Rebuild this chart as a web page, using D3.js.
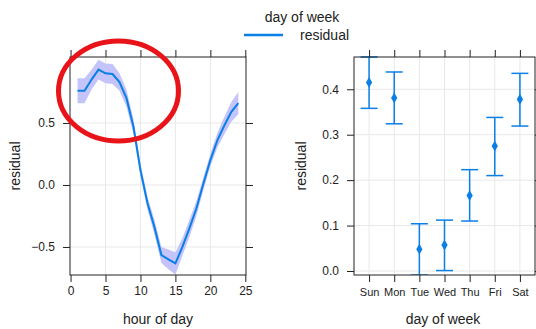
<!DOCTYPE html>
<html>
<head>
<meta charset="utf-8">
<script src="https://cdn.jsdelivr.net/npm/d3@7"></script>
<style>
  body { margin: 0; background: #fff; }
  text { font-family: "Liberation Sans", Arial, sans-serif; fill: #222; }
</style>
</head>
<body>
<svg id="chart" width="536" height="329"></svg>
<script>
// hour of day effect (fit + confidence band)
const hours = [1,2,3,4,5,6,7,8,9,10,11,12,13,14,15,16,17,18,19,20,21,22,23,24];
const hourFit = [0.76,0.76,0.85,0.93,0.90,0.895,0.83,0.70,0.47,0.12,-0.145,-0.34,-0.565,-0.60,-0.632,-0.50,-0.35,-0.19,0.01,0.20,0.36,0.48,0.59,0.66];
const hourLower = [0.66,0.66,0.77,0.85,0.82,0.815,0.76,0.63,0.41,0.07,-0.195,-0.40,-0.63,-0.68,-0.722,-0.57,-0.42,-0.25,-0.04,0.15,0.30,0.41,0.51,0.57];
const hourUpper = [0.86,0.86,0.93,1.01,0.98,0.975,0.90,0.77,0.53,0.17,-0.095,-0.28,-0.50,-0.52,-0.542,-0.43,-0.28,-0.13,0.06,0.25,0.42,0.55,0.67,0.75];
const hourTicksX = [0,5,10,15,20,25];
const hourTicksY = [-0.5,0,0.5];

// day of week effect
const days = ["Sun","Mon","Tue","Wed","Thu","Fri","Sat"];
const dayFit = [0.415,0.381,0.048,0.057,0.166,0.275,0.378];
const dayLower = [0.358,0.324,-0.009,0.001,0.110,0.210,0.319];
const dayUpper = [0.471,0.438,0.104,0.112,0.223,0.338,0.435];
const dayTicksY = [0.0,0.1,0.2,0.3,0.4];

const blue = "#0a7fe6";
const band = "#c4c4fb";
const grid = "#e8e8e8";
const tickLen = 7;

const svg = d3.select("#chart");

//////////////// left panel: hour of day ////////////////
const L = {x0: 70, x1: 246, y0: 57, y1: 275};
const xH = d3.scaleLinear().domain([-0.08, 25.1]).range([L.x0, L.x1]);
const yH = d3.scaleLinear().domain([-0.726, 1.032]).range([L.y1, L.y0]);

const gL = svg.append("g");
gL.append("defs").append("clipPath").attr("id", "clipL")
  .append("rect").attr("x", L.x0).attr("y", L.y0).attr("width", L.x1 - L.x0).attr("height", L.y1 - L.y0);

// grid
gL.selectAll(".gx").data(hourTicksX.filter(d => d > 0 && d < 25)).enter().append("line")
  .attr("x1", d => xH(d)).attr("x2", d => xH(d)).attr("y1", L.y0).attr("y2", L.y1)
  .style("stroke", grid);
gL.selectAll(".gy").data(hourTicksY).enter().append("line")
  .attr("y1", d => yH(d)).attr("y2", d => yH(d)).attr("x1", L.x0).attr("x2", L.x1)
  .style("stroke", grid);

const bandArea = d3.area()
  .x((d, i) => xH(hours[i]))
  .y0((d, i) => yH(hourLower[i]))
  .y1((d, i) => yH(hourUpper[i]));
gL.append("path").attr("clip-path", "url(#clipL)")
  .attr("d", bandArea(hours))
  .style("fill", band).style("stroke", "none");

const fitLine = d3.line()
  .x((d, i) => xH(hours[i]))
  .y((d, i) => yH(hourFit[i]));
gL.append("path").attr("clip-path", "url(#clipL)")
  .attr("d", fitLine(hours))
  .style("fill", "none").style("stroke", blue).style("stroke-width", 2);

// box
gL.append("rect").attr("x", L.x0).attr("y", L.y0).attr("width", L.x1 - L.x0).attr("height", L.y1 - L.y0)
  .style("fill", "none").style("stroke", "#222").style("stroke-width", 1);

// axes
gL.append("g").attr("transform", `translate(0,${L.y1})`)
  .call(d3.axisBottom(xH).tickValues(hourTicksX).tickSize(tickLen).tickPadding(4))
  .call(g => g.select(".domain").remove());
gL.append("g").attr("transform", `translate(0,${L.y0})`)
  .call(d3.axisTop(xH).tickValues(hourTicksX).tickSize(tickLen).tickFormat(""))
  .call(g => g.select(".domain").remove());
gL.append("g").attr("transform", `translate(${L.x0},0)`)
  .call(d3.axisLeft(yH).tickValues(hourTicksY).tickSize(tickLen).tickPadding(8).tickFormat(d3.format(".1f")))
  .call(g => g.select(".domain").remove());
gL.append("g").attr("transform", `translate(${L.x1},0)`)
  .call(d3.axisRight(yH).tickValues(hourTicksY).tickSize(tickLen).tickFormat(""))
  .call(g => g.select(".domain").remove());

gL.append("text").attr("x", 158).attr("y", 324).attr("text-anchor", "middle")
  .style("font-size", "14px").text("hour of day");
gL.append("text").attr("transform", "translate(20,166) rotate(-90)").attr("text-anchor", "middle")
  .style("font-size", "14px").text("residual");

//////////////// right panel: day of week ////////////////
const R = {x0: 354, x1: 535, y0: 57, y1: 275};
const xD = d3.scalePoint().domain(days).range([R.x0, R.x1]).padding(0.6);
const yD = d3.scaleLinear().domain([-0.0088, 0.471]).range([R.y1, R.y0]);

const gR = svg.append("g");
gR.append("defs").append("clipPath").attr("id", "clipR")
  .append("rect").attr("x", R.x0).attr("y", R.y0 - 1).attr("width", R.x1 - R.x0).attr("height", R.y1 - R.y0 + 1);

gR.selectAll(".gx").data(days).enter().append("line")
  .attr("x1", d => xD(d)).attr("x2", d => xD(d)).attr("y1", R.y0).attr("y2", R.y1)
  .style("stroke", grid);
gR.selectAll(".gy").data(dayTicksY).enter().append("line")
  .attr("y1", d => yD(d)).attr("y2", d => yD(d)).attr("x1", R.x0).attr("x2", R.x1)
  .style("stroke", grid);

const ci = gR.append("g").attr("clip-path", "url(#clipR)").selectAll(".ci").data(days).enter().append("g");
ci.append("line")
  .attr("x1", d => xD(d)).attr("x2", d => xD(d))
  .attr("y1", (d, i) => yD(dayLower[i])).attr("y2", (d, i) => yD(dayUpper[i]))
  .style("stroke", blue).style("stroke-width", 1.5);
ci.append("line")
  .attr("x1", d => xD(d) - 8.5).attr("x2", d => xD(d) + 8.5)
  .attr("y1", (d, i) => yD(dayUpper[i])).attr("y2", (d, i) => yD(dayUpper[i]))
  .style("stroke", blue).style("stroke-width", 1.5);
ci.append("line")
  .attr("x1", d => xD(d) - 8.5).attr("x2", d => xD(d) + 8.5)
  .attr("y1", (d, i) => yD(dayLower[i])).attr("y2", (d, i) => yD(dayLower[i]))
  .style("stroke", blue).style("stroke-width", 1.5);
ci.append("path")
  .attr("d", d3.symbol().type(d3.symbolDiamond).size(34))
  .attr("transform", (d, i) => `translate(${xD(d)},${yD(dayFit[i])})`)
  .style("fill", blue);

gR.append("rect").attr("x", R.x0).attr("y", R.y0).attr("width", R.x1 - R.x0).attr("height", R.y1 - R.y0)
  .style("fill", "none").style("stroke", "#222").style("stroke-width", 1);

const dayAxis = gR.append("g").attr("transform", `translate(0,${R.y1})`)
  .call(d3.axisBottom(xD).tickSize(tickLen).tickPadding(6))
  .call(g => g.select(".domain").remove());
gR.append("g").attr("transform", `translate(0,${R.y0})`)
  .call(d3.axisTop(xD).tickSize(tickLen).tickFormat(""))
  .call(g => g.select(".domain").remove());
const dayY = gR.append("g").attr("transform", `translate(${R.x0},0)`)
  .call(d3.axisLeft(yD).tickValues(dayTicksY).tickSize(tickLen).tickPadding(8).tickFormat(d3.format(".1f")))
  .call(g => g.select(".domain").remove());
gR.append("g").attr("transform", `translate(${R.x1},0)`)
  .call(d3.axisRight(yD).tickValues(dayTicksY).tickSize(tickLen).tickFormat(""))
  .call(g => g.select(".domain").remove());

gR.append("text").attr("x", 443).attr("y", 324).attr("text-anchor", "middle")
  .style("font-size", "14px").text("day of week");
gR.append("text").attr("transform", "translate(306,166) rotate(-90)").attr("text-anchor", "middle")
  .style("font-size", "14px").text("residual");

// style tick labels / tick lines
svg.selectAll(".tick line").style("stroke", "#222");
svg.selectAll(".tick text").style("fill", "#222")
  .style("font-family", "'Liberation Sans', Arial, sans-serif").style("font-size", "12px");
dayAxis.selectAll("text").style("font-size", "11px");

//////////////// legend ////////////////
svg.append("text").attr("x", 302).attr("y", 22).attr("text-anchor", "middle")
  .style("font-size", "14px").text("day of week");
svg.append("line").attr("x1", 244).attr("x2", 283).attr("y1", 35).attr("y2", 35)
  .style("stroke", blue).style("stroke-width", 2.5);
svg.append("text").attr("x", 300).attr("y", 40).style("font-size", "14px").text("residual");

//////////////// annotation ellipse ////////////////
svg.append("ellipse").attr("cx", 118.5).attr("cy", 91).attr("rx", 60).attr("ry", 50)
  .style("fill", "none").style("stroke", "#e8141a").style("stroke-width", 5);
</script>
</body>
</html>
